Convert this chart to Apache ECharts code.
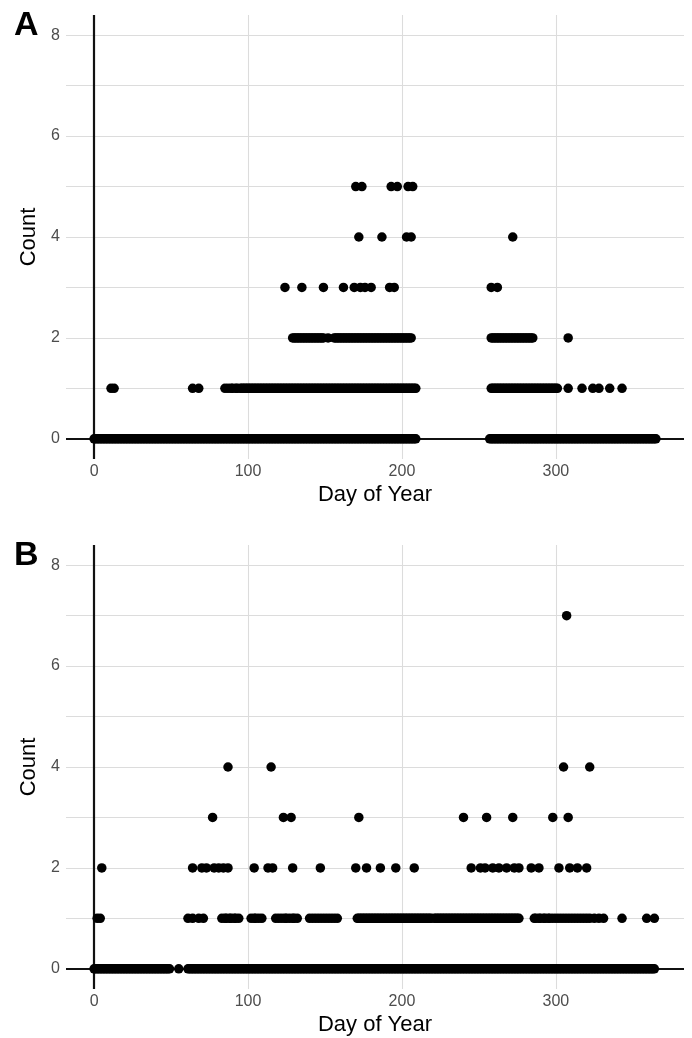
<!DOCTYPE html>
<html>
<head>
<meta charset="utf-8">
<script src="https://cdn.jsdelivr.net/npm/echarts@6/dist/echarts.min.js"></script>
<style>
html,body{margin:0;padding:0;background:#fff;}
#chart{width:692px;height:1038px;}
</style>
</head>
<body>
<div id="chart"></div>
<script>
// ---- Tick labels ----
var xTicks = [0, 100, 200, 300];
var yTicks = [0, 2, 4, 6, 8];
var xGridLines = [100, 200, 300];
var yGridLines = [0, 1, 2, 3, 4, 5, 6, 7, 8];

// ---- Panel A: days of year observed with each count ----
var A_count0 = [
0,1,2,3,4,5,6,7,8,9,10,11,12,13,14,15,16,17,18,19,
20,21,22,23,24,25,26,27,28,29,30,31,32,33,34,35,36,37,38,39,
40,41,42,43,44,45,46,47,48,49,50,51,52,53,54,55,56,57,58,59,
60,61,62,63,64,65,66,67,68,69,70,71,72,73,74,75,76,77,78,79,
80,81,82,83,84,85,86,87,88,89,90,91,92,93,94,95,96,97,98,99,
100,101,102,103,104,105,106,107,108,109,110,111,112,113,114,115,116,117,118,119,
120,121,122,123,124,125,126,127,128,129,130,131,132,133,134,135,136,137,138,139,
140,141,142,143,144,145,146,147,148,149,150,151,152,153,154,155,156,157,158,159,
160,161,162,163,164,165,166,167,168,169,170,171,172,173,174,175,176,177,178,179,
180,181,182,183,184,185,186,187,188,189,190,191,192,193,194,195,196,197,198,199,
200,201,202,203,204,205,206,207,208,209,
257,258,259,260,261,262,263,264,265,266,267,268,269,270,271,272,273,274,275,276,
277,278,279,280,281,282,283,284,285,286,287,288,289,290,291,292,293,294,295,296,
297,298,299,300,301,302,303,304,305,306,307,308,309,310,311,312,313,314,315,316,
317,318,319,320,321,322,323,324,325,326,327,328,329,330,331,332,333,334,335,336,
337,338,339,340,341,342,343,344,345,346,347,348,349,350,351,352,353,354,355,356,
357,358,359,360,361,362,363,364,365
];
var A_count1 = [
11,13,64,68,
85,87,89,90,92,93,95,96,97,98,99,100,101,102,103,104,105,106,107,108,109,110,
111,112,113,114,115,116,117,118,119,120,121,122,123,124,125,126,127,128,129,130,
131,132,133,134,135,136,137,138,139,140,141,142,143,144,145,146,147,148,149,150,
151,152,153,154,155,156,157,158,159,160,161,162,163,164,165,166,167,168,169,170,
171,172,173,174,175,176,177,178,179,180,181,182,183,184,185,186,187,188,189,190,
191,192,193,194,195,196,197,198,199,200,201,202,203,204,205,206,207,208,209,
258,259,260,261,262,263,264,265,266,267,268,269,270,271,272,273,274,275,276,277,
278,279,280,281,282,283,284,285,286,287,288,289,290,291,292,293,294,295,296,297,
298,299,300,301,
308,317,324,328,335,343
];
var A_count2 = [
129,130,131,132,133,134,135,136,137,138,139,140,141,142,143,144,145,146,147,148,149,
152,
156,157,158,159,160,161,162,163,164,165,166,167,168,169,170,171,172,173,174,175,
176,177,178,179,180,181,182,183,184,185,186,187,188,189,190,191,192,193,194,195,
196,197,198,199,200,201,202,203,204,205,206,
258,259,260,261,262,263,264,265,266,267,268,269,270,271,272,273,274,275,276,277,
278,279,280,281,282,283,284,285,
308
];
var A_count3 = [124,135,149,162,169,173,176,180,192,195,258,262];
var A_count4 = [172,187,203,206,272];
var A_count5 = [170,174,193,197,204,207];

// ---- Panel B ----
var B_count0 = [
0,1,2,3,4,5,6,7,8,9,10,11,12,13,14,15,16,17,18,19,
20,21,22,23,24,25,26,27,28,29,30,31,32,33,34,35,36,37,38,39,
40,41,42,43,44,45,46,47,48,49,
55,
61,62,63,64,65,66,67,68,69,70,71,72,73,74,75,76,77,78,79,
80,81,82,83,84,85,86,87,88,89,90,91,92,93,94,95,96,97,98,99,
100,101,102,103,104,105,106,107,108,109,110,111,112,113,114,115,116,117,118,119,
120,121,122,123,124,125,126,127,128,129,130,131,132,133,134,135,136,137,138,139,
140,141,142,143,144,145,146,147,148,149,150,151,152,153,154,155,156,157,158,159,
160,161,162,163,164,165,166,167,168,169,170,171,172,173,174,175,176,177,178,179,
180,181,182,183,184,185,186,187,188,189,190,191,192,193,194,195,196,197,198,199,
200,201,202,203,204,205,206,207,208,209,210,211,212,213,214,215,216,217,218,219,
220,221,222,223,224,225,226,227,228,229,230,231,232,233,234,235,236,237,238,239,
240,241,242,243,244,245,246,247,248,249,250,251,252,253,254,255,256,257,258,259,
260,261,262,263,264,265,266,267,268,269,270,271,272,273,274,275,276,277,278,279,
280,281,282,283,284,285,286,287,288,289,290,291,292,293,294,295,296,297,298,299,
300,301,302,303,304,305,306,307,308,309,310,311,312,313,314,315,316,317,318,319,
320,321,322,323,324,325,326,327,328,329,330,331,332,333,334,335,336,337,338,339,
340,341,342,343,344,345,346,347,348,349,350,351,352,353,354,355,356,357,358,359,
360,361,362,363,364
];
var B_count1 = [
2,4,61,64,68,71,
83,85,86,88,89,91,92,94,
102,104,105,107,109,
118,120,122,124,125,127,129,130,132,
140,142,144,146,148,150,152,154,156,158,
171,172,173,174,175,176,177,178,179,180,181,182,183,184,185,186,187,188,189,190,
191,192,193,194,195,196,197,198,199,200,201,202,203,204,205,206,207,208,209,210,
211,212,213,214,215,216,217,218,219,221,222,223,224,225,226,227,228,229,230,
231,232,233,234,235,236,237,238,239,240,241,242,243,244,245,246,247,248,249,250,
251,252,253,254,255,256,257,258,259,260,261,262,263,264,265,266,267,268,269,270,
271,272,273,274,275,276,
286,287,289,290,292,293,295,296,298,300,302,304,306,308,310,312,314,316,318,320,
322,325,328,331,343,359,364
];
var B_count2 = [5,64,70,73,78,81,84,87,104,113,116,129,147,170,177,186,196,208,
245,251,254,259,263,268,273,276,284,289,302,309,314,320];
var B_count3 = [77,123,128,172,240,255,272,298,308];
var B_count4 = [87,115,305,322];
var B_count7 = [307];

function toPoints(levels) {
  var out = [];
  levels.forEach(function (lv) {
    lv.days.forEach(function (d) { out.push([d, lv.count]); });
  });
  return out;
}
var panelA = toPoints([
  {count: 0, days: A_count0}, {count: 1, days: A_count1}, {count: 2, days: A_count2},
  {count: 3, days: A_count3}, {count: 4, days: A_count4}, {count: 5, days: A_count5}
]);
var panelB = toPoints([
  {count: 0, days: B_count0}, {count: 1, days: B_count1}, {count: 2, days: B_count2},
  {count: 3, days: B_count3}, {count: 4, days: B_count4}, {count: 7, days: B_count7}
]);

var FONT = '"Liberation Sans", Arial, sans-serif';
var gridColor = '#dcdcdc';

function guideLines() {
  var d = [];
  xGridLines.forEach(function (v) { d.push({xAxis: v, lineStyle: {color: gridColor, width: 1.1, type: 'solid'}}); });
  yGridLines.forEach(function (v) { d.push({yAxis: v, lineStyle: {color: gridColor, width: 1.1, type: 'solid'}}); });
  d.push({xAxis: 0, lineStyle: {color: '#111', width: 2.2, type: 'solid'}});
  d.push({yAxis: 0, lineStyle: {color: '#111', width: 2.2, type: 'solid'}});
  return d;
}

function xAxisDef(idx) {
  return {
    type: 'value', gridIndex: idx, min: -18.25, max: 383.25,
    name: 'Day of Year', nameLocation: 'middle', nameGap: 25,
    nameTextStyle: {fontFamily: FONT, fontSize: 22, color: '#000'},
    axisLine: {show: false}, axisTick: {show: false}, splitLine: {show: false},
    axisLabel: {customValues: xTicks, fontFamily: FONT, fontSize: 16, color: '#4d4d4d', margin: 5}
  };
}
function yAxisDef(idx) {
  return {
    type: 'value', gridIndex: idx, min: -0.4, max: 8.4,
    name: 'Count', nameLocation: 'middle', nameGap: 22, nameRotate: 90,
    nameTextStyle: {fontFamily: FONT, fontSize: 22, color: '#000'},
    axisLine: {show: false}, axisTick: {show: false}, splitLine: {show: false},
    axisLabel: {customValues: yTicks, fontFamily: FONT, fontSize: 16, color: '#4d4d4d', margin: 6}
  };
}

var chart = echarts.init(document.getElementById('chart'), null, {renderer: 'canvas'});
chart.setOption({
  animation: false,
  backgroundColor: '#fff',
  grid: [
    {left: 66, width: 618, top: 15, height: 444},
    {left: 66, width: 618, top: 545, height: 444}
  ],
  xAxis: [xAxisDef(0), xAxisDef(1)],
  yAxis: [yAxisDef(0), yAxisDef(1)],
  graphic: [
    {type: 'text', left: 14, top: 9, style: {text: 'A', fontFamily: FONT, fontWeight: 'bold', fontSize: 34, fill: '#000'}},
    {type: 'text', left: 14, top: 539, style: {text: 'B', fontFamily: FONT, fontWeight: 'bold', fontSize: 34, fill: '#000'}}
  ],
  series: [
    {type: 'scatter', xAxisIndex: 0, yAxisIndex: 0, data: [], silent: true,
     markLine: {silent: true, z: 1, symbol: ['none', 'none'], label: {show: false}, data: guideLines()}},
    {type: 'scatter', xAxisIndex: 1, yAxisIndex: 1, data: [], silent: true,
     markLine: {silent: true, z: 1, symbol: ['none', 'none'], label: {show: false}, data: guideLines()}},
    {type: 'scatter', xAxisIndex: 0, yAxisIndex: 0, data: panelA, symbolSize: 9.5, z: 3,
     itemStyle: {color: '#000', opacity: 1}},
    {type: 'scatter', xAxisIndex: 1, yAxisIndex: 1, data: panelB, symbolSize: 9.5, z: 3,
     itemStyle: {color: '#000', opacity: 1}}
  ]
});
</script>
</body>
</html>
